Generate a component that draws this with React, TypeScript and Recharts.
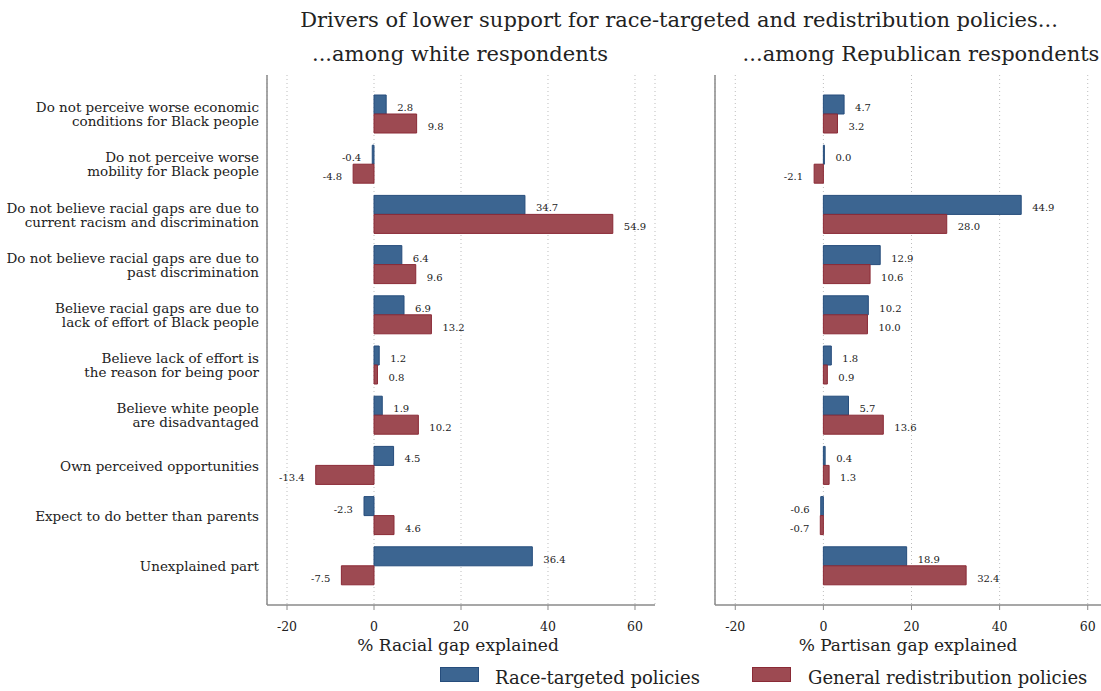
import { Bar, BarChart, CartesianGrid, LabelList, XAxis, YAxis } from "recharts";

const CATEGORIES = [
  "Do not perceive worse economic|conditions for Black people",
  "Do not perceive worse|mobility for Black people",
  "Do not believe racial gaps are due to|current racism and discrimination",
  "Do not believe racial gaps are due to|past discrimination",
  "Believe racial gaps are due to|lack of effort of Black people",
  "Believe lack of effort is|the reason for being poor",
  "Believe white people|are disadvantaged",
  "Own perceived opportunities",
  "Expect to do better than parents",
  "Unexplained part",
];

const WHITE_RACE = [2.8, -0.4, 34.7, 6.4, 6.9, 1.2, 1.9, 4.5, -2.3, 36.4];
const WHITE_REDIST = [9.8, -4.8, 54.9, 9.6, 13.2, 0.8, 10.2, -13.4, 4.6, -7.5];
const REP_RACE = [4.7, 0.0, 44.9, 12.9, 10.2, 1.8, 5.7, 0.4, -0.6, 18.9];
const REP_REDIST = [3.2, -2.1, 28.0, 10.6, 10.0, 0.9, 13.6, 1.3, -0.7, 32.4];

const X_TICKS = [-20, 0, 20, 40, 60];
const X_DOMAIN: [number, number] = [-24.6, 64.6];

const BLUE = "#3c6591";
const BLUE_EDGE = "#264d7c";
const RED = "#9d4a52";
const RED_EDGE = "#8a2a36";
const AXIS = "#8a8a8a";
const INK = "#222";
const FONT = "'DejaVu Serif', 'Liberation Serif', serif";

const whiteData = CATEGORIES.map((label, i) => ({ label, race: WHITE_RACE[i], redist: WHITE_REDIST[i] }));
const repData = CATEGORIES.map((label, i) => ({ label, race: REP_RACE[i], redist: REP_REDIST[i] }));

function CategoryTick(props: any) {
  const { x, y, payload } = props;
  const lines = String(payload.value).split("|");
  const start = y - ((lines.length - 1) * 14) / 2;
  return (
    <text x={x} y={y} textAnchor="end" fill={INK} fontSize={13.5} fontFamily={FONT}>
      {lines.map((line, i) => (
        <tspan key={i} x={x} y={start + i * 14} dominantBaseline="central">
          {line}
        </tspan>
      ))}
    </text>
  );
}

function ValueLabel(props: any) {
  const { x, y, width, height, value } = props;
  const end = x + width;
  const positive = value >= 0;
  return (
    <text
      x={positive ? end + 11 : end - 11}
      y={y + height / 2 + 3}
      textAnchor={positive ? "start" : "end"}
      dominantBaseline="central"
      fontSize={10}
      fill={INK}
      fontFamily={FONT}
    >
      {value.toFixed(1)}
    </text>
  );
}

function Panel({ data, yAxisWidth, showLabels, width, marginRight }: any) {
  return (
    <BarChart
      width={width}
      height={691}
      data={data}
      layout="vertical"
      margin={{ top: 75, right: marginRight, left: 0, bottom: 36 }}
      barSize={19}
      barGap={0}
    >
      <CartesianGrid horizontal={false} strokeDasharray="1 3" stroke="#bdbdbd" />
      <XAxis
        type="number"
        domain={X_DOMAIN}
        ticks={X_TICKS}
        allowDataOverflow
        height={50}
        axisLine={{ stroke: AXIS, strokeWidth: 1.5 }}
        tickLine={{ stroke: AXIS }}
        tickSize={5}
        tickMargin={12}
        tick={{ fill: INK, fontSize: 12.5, fontFamily: FONT }}
      />
      <YAxis
        type="category"
        dataKey="label"
        width={yAxisWidth}
        padding={{ top: 14, bottom: 14 }}
        axisLine={{ stroke: AXIS, strokeWidth: 1.5 }}
        tickLine={false}
        tickSize={0}
        tickMargin={8}
        tick={showLabels ? <CategoryTick /> : false}
        interval={0}
      />
      <Bar dataKey="race" fill={BLUE} stroke={BLUE_EDGE} strokeWidth={1} minPointSize={1} isAnimationActive={false}>
        <LabelList dataKey="race" content={<ValueLabel />} />
      </Bar>
      <Bar dataKey="redist" fill={RED} stroke={RED_EDGE} strokeWidth={1} minPointSize={1} isAnimationActive={false}>
        <LabelList dataKey="redist" content={<ValueLabel />} />
      </Bar>
    </BarChart>
  );
}

const centered = (x: number, y: number, size: number): React.CSSProperties => ({
  position: "absolute",
  left: x,
  top: y,
  transform: "translate(-50%, -50%)",
  fontSize: size,
  whiteSpace: "nowrap",
  color: INK,
});

export default function App() {
  return (
    <div
      style={{
        position: "absolute",
        left: 0,
        top: 0,
        width: 1101,
        height: 691,
        overflow: "hidden",
        background: "#fff",
        fontFamily: FONT,
      }}
    >
      <div style={centered(679, 20, 21)}>
        Drivers of lower support for race-targeted and redistribution policies...
      </div>
      <div style={centered(460, 54, 21)}>...among white respondents</div>
      <div style={centered(921, 54, 21)}>...among Republican respondents</div>

      <div style={{ position: "absolute", left: 0, top: 0 }}>
        <Panel data={whiteData} yAxisWidth={267} showLabels width={660} marginRight={5} />
      </div>
      <div style={{ position: "absolute", left: 660, top: 0 }}>
        <Panel data={repData} yAxisWidth={55} showLabels={false} width={448} marginRight={0} />
      </div>

      <div style={centered(458, 645, 17)}>% Racial gap explained</div>
      <div style={centered(908, 645, 17)}>% Partisan gap explained</div>

      <div style={{ position: "absolute", left: 440, top: 667, width: 37, height: 13, background: BLUE, border: `1px solid ${BLUE_EDGE}` }} />
      <div style={{ position: "absolute", left: 495, top: 668, fontSize: 18, color: INK, whiteSpace: "nowrap", lineHeight: "20px" }}>
        Race-targeted policies
      </div>
      <div style={{ position: "absolute", left: 752, top: 667, width: 37, height: 13, background: RED, border: `1px solid ${RED_EDGE}` }} />
      <div style={{ position: "absolute", left: 808, top: 668, fontSize: 18, color: INK, whiteSpace: "nowrap", lineHeight: "20px" }}>
        General redistribution policies
      </div>
    </div>
  );
}
